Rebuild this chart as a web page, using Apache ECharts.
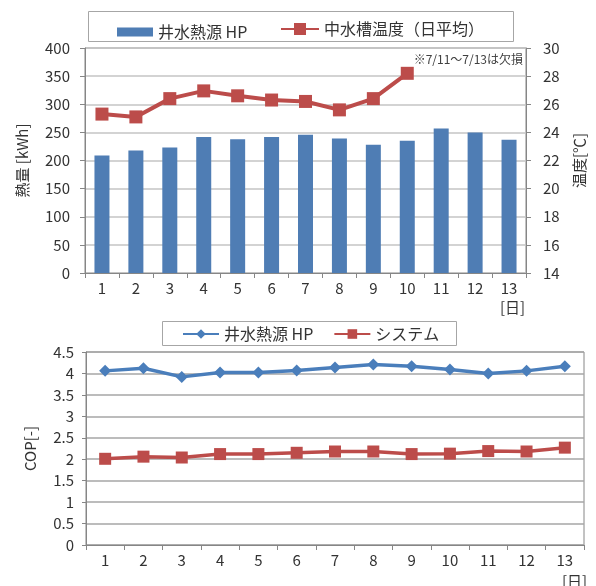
<!DOCTYPE html>
<html lang="ja">
<head>
    <meta charset="UTF-8">
    <script src="https://cdn.jsdelivr.net/npm/echarts@6/dist/echarts.min.js"></script>
    <title>COP</title>
    <style>
        html, body { margin: 0; padding: 0; background: #fff; }
        #main { width: 596px; height: 586px; }
    </style>
</head>
<body>
    <div id="main"></div>
    <script type="text/javascript">
        // 日付（横軸）
        var days = ['1', '2', '3', '4', '5', '6', '7', '8', '9', '10', '11', '12', '13'];
        // 井水熱源HP 熱量 [kWh]
        var heat = [209, 218, 223, 242, 238, 242, 246, 239, 228, 235, 257, 250, 237];
        // 中水槽温度（日平均）[℃]  7/11～7/13は欠損
        var temp = [25.3, 25.1, 26.4, 26.95, 26.6, 26.3, 26.2, 25.6, 26.4, 28.2];
        // COP
        var copHp = [4.06, 4.12, 3.92, 4.02, 4.02, 4.07, 4.14, 4.21, 4.17, 4.09, 4.00, 4.06, 4.17];
        var copSys = [2.01, 2.06, 2.04, 2.12, 2.12, 2.15, 2.18, 2.18, 2.12, 2.13, 2.19, 2.18, 2.27];

        var FONT = '"Noto Sans CJK JP", "Noto Sans", sans-serif';
        var TXT = '#333';
        var AXIS = '#868686';
        var BLUE = '#4F7DB4';
        var LBLUE = '#4A7EBB';
        var RED = '#BC4C4A';

        var legendNames = { hp: '井水熱源 HP', sys: 'システム' };

        var myChart = echarts.init(document.getElementById('main'));

        function xAxisOf(grid, size) {
            return {
                type: 'category', gridIndex: grid, data: days,
                axisLine: { lineStyle: { color: AXIS } },
                axisTick: { show: true, length: 5, lineStyle: { color: AXIS } },
                axisLabel: { color: TXT, fontSize: size, fontFamily: FONT, margin: 8 }
            };
        }

        var option = {
            animation: false,
            textStyle: { fontFamily: FONT },
            grid: [
                { left: 85, right: 70, top: 48, height: 225, show: true, borderColor: AXIS, borderWidth: 1 },
                { left: 86, right: 12, top: 352, height: 193, show: true, borderColor: AXIS, borderWidth: 1 }
            ],
            legend: [
                { data: [{ name: '井水熱源 HP', icon: 'rect' }], left: 117, top: 24, padding: 0, itemWidth: 36, itemHeight: 9,
                  textStyle: { fontSize: 16, color: TXT, fontFamily: FONT } },
                { data: ['中水槽温度（日平均）'], left: 280, top: 21, padding: 0, itemWidth: 38, itemHeight: 15,
                  textStyle: { fontSize: 16, color: TXT, fontFamily: FONT } },
                { data: ['hp', 'sys'], left: 182, top: 326, padding: 0, itemWidth: 36, itemHeight: 12, itemGap: 20,
                  formatter: function (n) { return legendNames[n]; },
                  textStyle: { fontSize: 16, color: TXT, fontFamily: FONT } }
            ],
            xAxis: [xAxisOf(0, 15), xAxisOf(1, 15)],
            yAxis: [
                {
                    type: 'value', gridIndex: 0, min: 0, max: 400, interval: 50,
                    name: '熱量 [kWh]', nameLocation: 'middle', nameGap: 55, nameRotate: 90,
                    nameTextStyle: { fontSize: 15, color: TXT, fontFamily: FONT },
                    axisLine: { show: true, lineStyle: { color: AXIS } },
                    axisTick: { show: true, length: 5, lineStyle: { color: AXIS } },
                    axisLabel: { color: TXT, fontSize: 15, fontFamily: FONT, margin: 15 },
                    splitLine: { lineStyle: { color: '#C4C4C4', width: 1.5 } }
                },
                {
                    type: 'value', gridIndex: 0, min: 14, max: 30, interval: 2, position: 'right',
                    name: '温度[℃]', nameLocation: 'middle', nameGap: 46, nameRotate: 90,
                    nameTextStyle: { fontSize: 15, color: TXT, fontFamily: FONT },
                    axisLine: { show: true, lineStyle: { color: AXIS } },
                    axisTick: { show: true, length: 5, lineStyle: { color: AXIS } },
                    axisLabel: { color: TXT, fontSize: 15, fontFamily: FONT, margin: 17 },
                    splitLine: { show: false }
                },
                {
                    type: 'value', gridIndex: 1, min: 0, max: 4.5, interval: 0.5,
                    name: 'COP[-]', nameLocation: 'middle', nameGap: 48, nameRotate: 90,
                    nameTextStyle: { fontSize: 15, color: TXT, fontFamily: FONT },
                    axisLine: { show: true, lineStyle: { color: AXIS } },
                    axisTick: { show: true, length: 4, lineStyle: { color: AXIS } },
                    axisLabel: { color: TXT, fontSize: 15, fontFamily: FONT, margin: 12 },
                    splitLine: { lineStyle: { color: '#A6A6A6', width: 1.5 } }
                }
            ],
            graphic: [
                { type: 'rect', shape: { x: 88.5, y: 11.5, width: 425, height: 30 },
                  style: { fill: 'none', stroke: '#A6A6A6', lineWidth: 1 }, z: -1 },
                { type: 'rect', shape: { x: 162.5, y: 321.5, width: 294, height: 24 },
                  style: { fill: 'none', stroke: '#A6A6A6', lineWidth: 1 }, z: -1 },
                { type: 'text', right: 73, top: 53,
                  style: { text: '※7/11～7/13は欠損', fill: '#404040', font: '12px ' + FONT } },
                { type: 'text', left: 500, top: 300,
                  style: { text: '[日]', fill: TXT, font: '15px ' + FONT } },
                { type: 'text', left: 562, top: 574,
                  style: { text: '[日]', fill: TXT, font: '15px ' + FONT } }
            ],
            series: [
                {
                    name: '井水熱源 HP', type: 'bar', xAxisIndex: 0, yAxisIndex: 0,
                    data: heat, barWidth: 15,
                    itemStyle: { color: BLUE }
                },
                {
                    name: '中水槽温度（日平均）', type: 'line', xAxisIndex: 0, yAxisIndex: 1,
                    data: temp, symbol: 'rect', symbolSize: 13,
                    lineStyle: { color: RED, width: 4 },
                    itemStyle: { color: RED }, z: 3
                },
                {
                    name: 'hp', type: 'line', xAxisIndex: 1, yAxisIndex: 2,
                    data: copHp, symbol: 'diamond', symbolSize: 12,
                    lineStyle: { color: LBLUE, width: 3.5 },
                    itemStyle: { color: LBLUE }
                },
                {
                    name: 'sys', type: 'line', xAxisIndex: 1, yAxisIndex: 2,
                    data: copSys, symbol: 'rect', symbolSize: 12,
                    lineStyle: { color: RED, width: 3.5 },
                    itemStyle: { color: RED }
                }
            ]
        };
        myChart.setOption(option);
    </script>
</body>
</html>
